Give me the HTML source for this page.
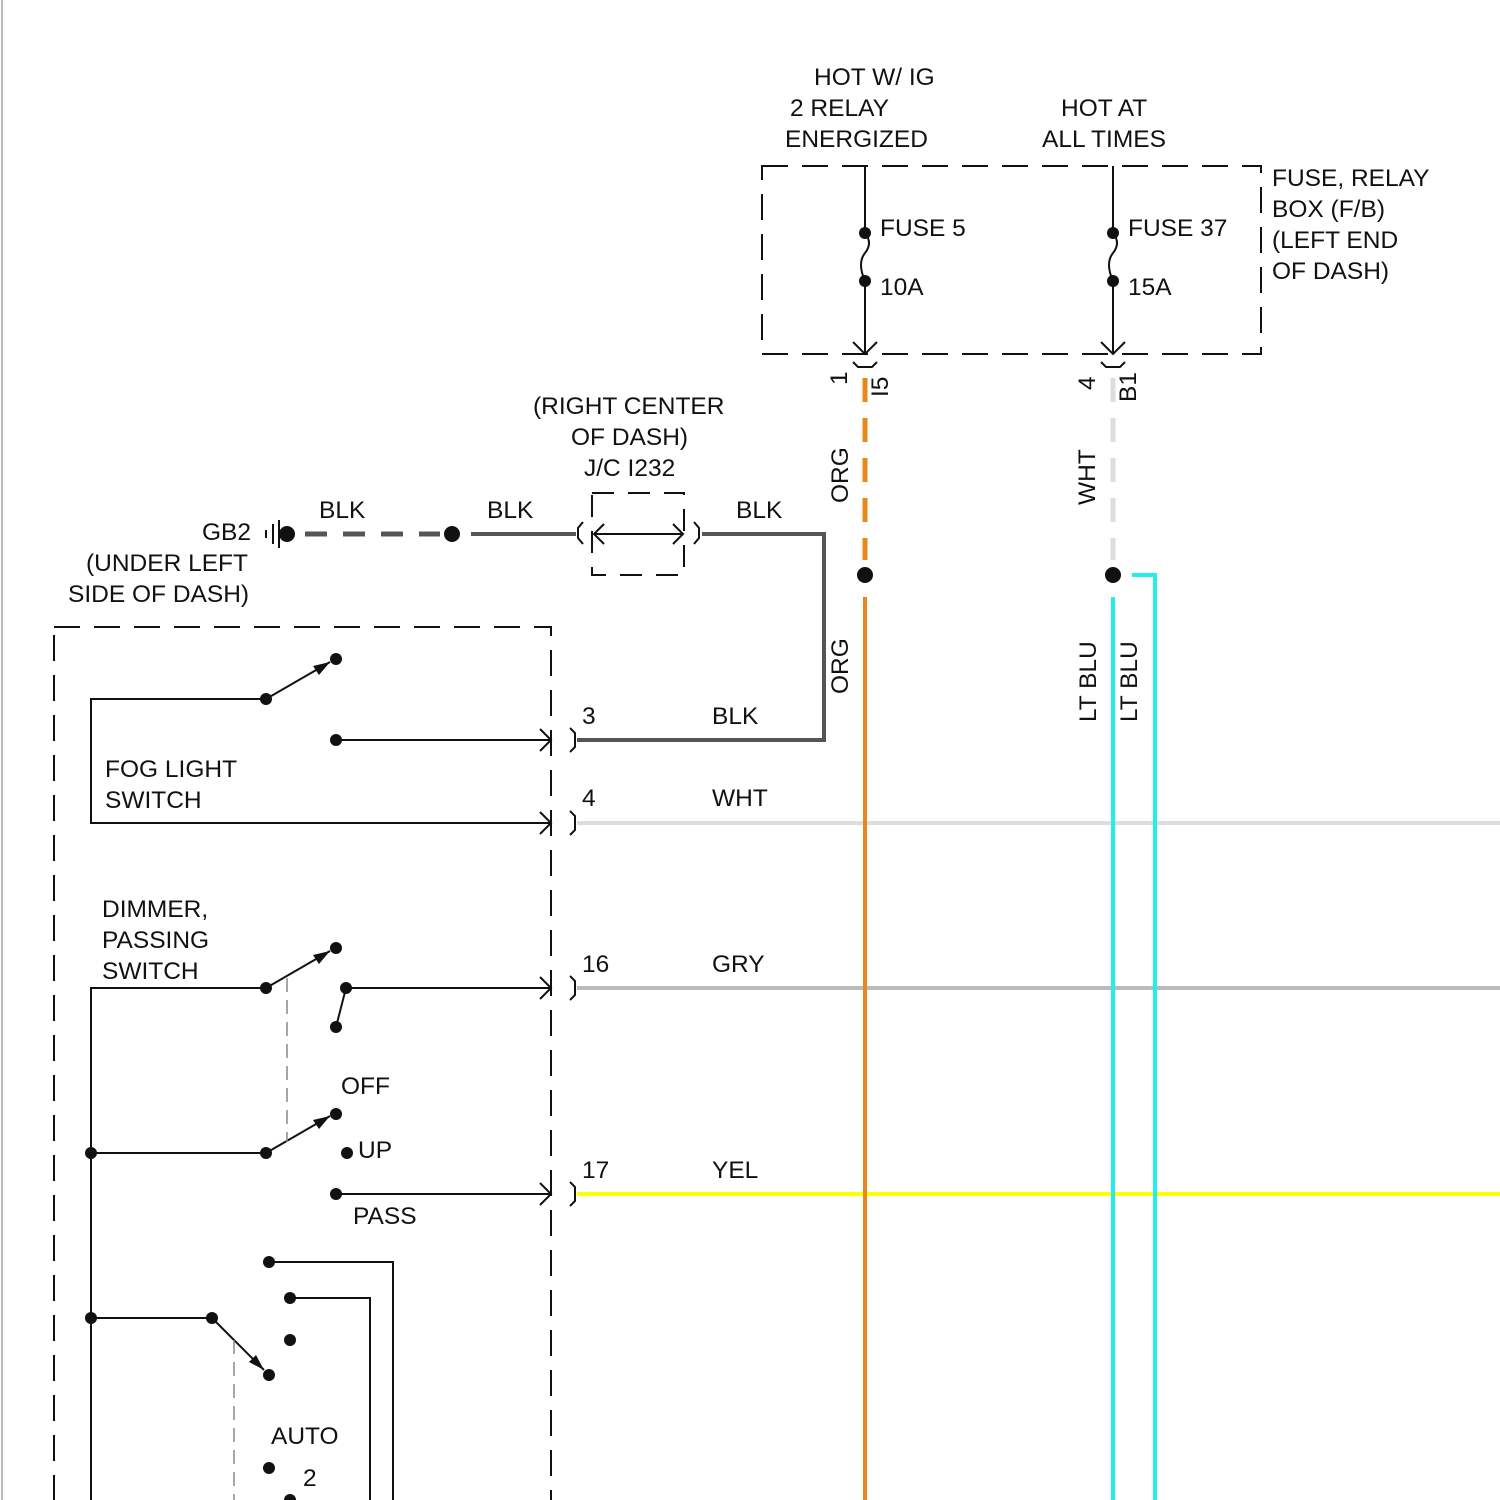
<!DOCTYPE html>
<html><head><style>body{margin:0;background:#fff}svg{display:block}text{font-family:"Liberation Sans",sans-serif;font-size:24.5px;fill:#111}</style></head><body>
<svg width="1500" height="1500" viewBox="0 0 1500 1500" xmlns="http://www.w3.org/2000/svg">
<line x1="2" y1="0" x2="2" y2="1500" stroke="#bbb" stroke-width="2"/>
<text x="814" y="85">HOT W/ IG</text>
<text x="790" y="116">2 RELAY</text>
<text x="785" y="147">ENERGIZED</text>
<text x="1061" y="116">HOT AT</text>
<text x="1042" y="147">ALL TIMES</text>
<text x="1272" y="186">FUSE, RELAY</text>
<text x="1272" y="217">BOX (F/B)</text>
<text x="1272" y="248">(LEFT END</text>
<text x="1272" y="279">OF DASH)</text>
<rect x="762" y="166" width="499" height="188" fill="none" stroke="#111" stroke-width="2" stroke-dasharray="26,14"/>
<g stroke="#111" stroke-width="2" fill="none">
<line x1="865" y1="166" x2="865" y2="233"/><path d="M865 233 q8 10 0 20 q-8 10 0 28"/><line x1="865" y1="281" x2="865" y2="353"/><path d="M853 342 L865 354 L877 342"/>
<line x1="1113" y1="166" x2="1113" y2="233"/><path d="M1113 233 q8 10 0 20 q-8 10 0 28"/><line x1="1113" y1="281" x2="1113" y2="353"/><path d="M1101 342 L1113 354 L1125 342"/>
<path d="M853 362 l5 5 h14 l5 -5"/>
<path d="M1101 362 l5 5 h14 l5 -5"/>
</g>
<g fill="#111"><circle cx="865" cy="233" r="6"/><circle cx="865" cy="281" r="6"/><circle cx="1113" cy="233" r="6"/><circle cx="1113" cy="281" r="6"/></g>
<text x="880" y="236">FUSE 5</text><text x="880" y="295">10A</text>
<text x="1128" y="236">FUSE 37</text><text x="1128" y="295">15A</text>
<text transform="translate(847,385) rotate(-90)">1</text>
<text transform="translate(888,397) rotate(-90)">I5</text>
<text transform="translate(1095,390) rotate(-90)">4</text>
<text transform="translate(1136,402) rotate(-90)">B1</text>
<text transform="translate(848,503) rotate(-90)">ORG</text>
<text transform="translate(1095,505) rotate(-90)">WHT</text>
<text transform="translate(848,694) rotate(-90)">ORG</text>
<text transform="translate(1096,722) rotate(-90)">LT BLU</text>
<text transform="translate(1137,722) rotate(-90)">LT BLU</text>
<line x1="577" y1="823" x2="1500" y2="823" stroke="#ddd" stroke-width="4"/>
<line x1="577" y1="988" x2="1500" y2="988" stroke="#bbb" stroke-width="4"/>
<line x1="577" y1="1194" x2="1500" y2="1194" stroke="#ffff00" stroke-width="4"/>
<line x1="865" y1="378" x2="865" y2="560" stroke="#e8871e" stroke-width="5" stroke-dasharray="24,16"/>
<line x1="865" y1="597" x2="865" y2="1500" stroke="#e8871e" stroke-width="4"/>
<line x1="1113" y1="378" x2="1113" y2="560" stroke="#ddd" stroke-width="5" stroke-dasharray="24,16"/>
<line x1="1113" y1="597" x2="1113" y2="1500" stroke="#22eeee" stroke-width="4"/>
<polyline points="1132,575 1155,575 1155,1500" fill="none" stroke="#22eeee" stroke-width="4"/>
<circle cx="865" cy="575" r="8" fill="#111"/><circle cx="1113" cy="575" r="8" fill="#111"/>
<text x="202" y="540">GB2</text>
<text x="86" y="571">(UNDER LEFT</text>
<text x="68" y="602">SIDE OF DASH)</text>
<text x="319" y="518">BLK</text><text x="487" y="518">BLK</text><text x="736" y="518">BLK</text>
<text x="533" y="414">(RIGHT CENTER</text><text x="571" y="445">OF DASH)</text><text x="584" y="476">J/C I232</text>
<g stroke="#111" stroke-width="2" fill="none"><line x1="266" y1="530" x2="266" y2="538"/><line x1="273" y1="524" x2="273" y2="544"/><line x1="279" y1="520" x2="279" y2="548"/></g>
<circle cx="287" cy="534" r="8" fill="#111"/><circle cx="452" cy="534" r="8" fill="#111"/>
<line x1="305" y1="534" x2="440" y2="534" stroke="#555" stroke-width="5" stroke-dasharray="22,16"/>
<line x1="471" y1="534" x2="576" y2="534" stroke="#555" stroke-width="4"/>
<polyline points="702,534 824,534 824,740 577,740" fill="none" stroke="#555" stroke-width="4"/>
<rect x="592" y="493" width="92" height="82" fill="none" stroke="#111" stroke-width="2" stroke-dasharray="22,14"/>
<g stroke="#111" stroke-width="2" fill="none">
<path d="M583 522 l-5 6 v10 l5 6"/><path d="M694 522 l5 6 v10 l-5 6"/>
<line x1="594" y1="534" x2="683" y2="534"/><path d="M604 524 l-10 10 l10 10 M673 524 l10 10 l-10 10"/>
</g>
<rect x="54" y="627" width="497" height="900" fill="none" stroke="#111" stroke-width="2" stroke-dasharray="26,14"/>
<g stroke="#111" stroke-width="2" fill="none">
<polyline points="266,699 91,699 91,823 551,823"/>
<line x1="266" y1="699" x2="330" y2="662"/>
<line x1="336" y1="740" x2="551" y2="740"/>
<path d="M540 729 l11 11 l-11 11 M540 812 l11 11 l-11 11 M540 977 l11 11 l-11 11 M540 1183 l11 11 l-11 11"/>
<path d="M570 728 l5 5 v14 l-5 5 M570 811 l5 5 v14 l-5 5 M570 976 l5 5 v14 l-5 5 M570 1182 l5 5 v14 l-5 5"/>
<polyline points="266,988 91,988 91,1500"/>
<line x1="266" y1="988" x2="330" y2="951"/>
<line x1="346" y1="988" x2="551" y2="988"/>
<line x1="346" y1="988" x2="336" y2="1027"/>
<line x1="91" y1="1153" x2="266" y2="1153"/><line x1="266" y1="1153" x2="330" y2="1116"/>
<line x1="336" y1="1194" x2="551" y2="1194"/>
<line x1="91" y1="1318" x2="212" y2="1318"/><line x1="212" y1="1318" x2="264" y2="1370"/>
<polyline points="269,1262 393,1262 393,1500"/><polyline points="290,1298 370,1298 370,1500"/>
</g>
<g stroke="#888" stroke-width="1.5" stroke-dasharray="14,8"><line x1="287" y1="978" x2="287" y2="1142"/><line x1="234" y1="1340" x2="234" y2="1500"/></g>
<g fill="#111">
<path d="M330 662 l-17 4 l6 9z"/><path d="M330 951 l-17 4 l6 9z"/><path d="M330 1116 l-17 4 l6 9z"/><path d="M264 1370 l-15 -8 l7 -7z"/>
<circle cx="266" cy="699" r="6"/><circle cx="336" cy="659" r="6"/><circle cx="336" cy="740" r="6"/>
<circle cx="266" cy="988" r="6"/><circle cx="336" cy="948" r="6"/><circle cx="346" cy="988" r="6"/><circle cx="336" cy="1027" r="6"/>
<circle cx="91" cy="1153" r="6"/><circle cx="266" cy="1153" r="6"/><circle cx="336" cy="1114" r="6"/><circle cx="347" cy="1153" r="6"/><circle cx="336" cy="1194" r="6"/>
<circle cx="91" cy="1318" r="6"/><circle cx="212" cy="1318" r="6"/><circle cx="269" cy="1262" r="6"/><circle cx="290" cy="1298" r="6"/><circle cx="290" cy="1340" r="6"/><circle cx="269" cy="1375" r="6"/><circle cx="269" cy="1468" r="6"/><circle cx="290" cy="1500" r="6"/>
</g>
<text x="105" y="777">FOG LIGHT</text><text x="105" y="808">SWITCH</text>
<text x="102" y="917">DIMMER,</text><text x="102" y="948">PASSING</text><text x="102" y="979">SWITCH</text>
<text x="341" y="1094">OFF</text><text x="358" y="1158">UP</text><text x="353" y="1224">PASS</text>
<text x="271" y="1444">AUTO</text><text x="303" y="1486">2</text>
<text x="582" y="724">3</text><text x="712" y="724">BLK</text>
<text x="582" y="806">4</text><text x="712" y="806">WHT</text>
<text x="582" y="972">16</text><text x="712" y="972">GRY</text>
<text x="582" y="1178">17</text><text x="712" y="1178">YEL</text>
</svg>
</body></html>
